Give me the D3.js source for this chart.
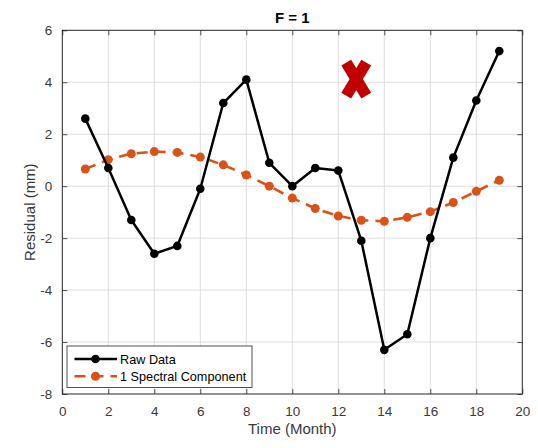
<!DOCTYPE html>
<html>
<head>
<meta charset="utf-8">
<script src="https://cdn.jsdelivr.net/npm/d3@7"></script>
<style>
  html, body { margin: 0; padding: 0; background: #fff; }
  svg { display: block; font-family: "Liberation Sans", Arial, sans-serif; }
</style>
</head>
<body>
<script>
// Monthly residuals and their single-component spectral fit
const months = [1, 2, 3, 4, 5, 6, 7, 8, 9, 10, 11, 12, 13, 14, 15, 16, 17, 18, 19];
const rawData = [2.6, 0.7, -1.3, -2.6, -2.3, -0.1, 3.2, 4.1, 0.9, 0.0, 0.7, 0.6, -2.1, -6.3, -5.7, -2.0, 1.1, 3.3, 5.2];
const spectral = [0.66, 1.02, 1.25, 1.33, 1.3, 1.12, 0.82, 0.43, 0.0, -0.46, -0.86, -1.15, -1.31, -1.35, -1.2, -0.98, -0.63, -0.2, 0.23];
const xTicks = [0, 2, 4, 6, 8, 10, 12, 14, 16, 18, 20];
const yTicks = [-8, -6, -4, -2, 0, 2, 4, 6];
const seriesNames = ["Raw Data", "1 Spectral Component"];
const titleText = "F = 1";
const xLabel = "Time (Month)";
const yLabel = "Residual (mm)";
const rejectMark = { x: 12.78, y: 4.12 };

const W = 538, H = 448;
const m = { left: 62.3, right: 538 - 522.3, top: 30.3, bottom: 448 - 394 };
const iw = W - m.left - m.right, ih = H - m.top - m.bottom;

const axisColor = "#262626";
const textColor = "#3a3a3a";
const orange = "#D95319";
const plainNumber = d => String(d);   // hyphen-minus for negative ticks

const svg = d3.select("body").append("svg").attr("width", W).attr("height", H);
const g = svg.append("g").attr("transform", `translate(${m.left},${m.top})`);

const x = d3.scaleLinear().domain([0, 20]).range([0, iw]);
const y = d3.scaleLinear().domain([-8, 6]).range([ih, 0]);

// grid
g.append("g").selectAll("line").data(xTicks.slice(1, -1)).join("line")
  .attr("x1", d => x(d)).attr("x2", d => x(d)).attr("y1", 0).attr("y2", ih)
  .attr("stroke", "#dedede").attr("stroke-width", 1);
g.append("g").selectAll("line").data(yTicks.slice(1, -1)).join("line")
  .attr("y1", d => y(d)).attr("y2", d => y(d)).attr("x1", 0).attr("x2", iw)
  .attr("stroke", "#dedede").attr("stroke-width", 1);

// axes with inward ticks on all four sides
function styleAxis(sel, showText) {
  sel.select(".domain").remove();
  sel.selectAll(".tick line").attr("stroke", axisColor).attr("stroke-width", 0.8);
  sel.selectAll(".tick text").attr("fill", textColor).style("font-size", "13.5px");
  if (!showText) sel.selectAll(".tick text").remove();
}
g.append("g").attr("transform", `translate(0,${ih})`)
  .call(d3.axisBottom(x).tickValues(xTicks).tickFormat(plainNumber).tickSizeInner(-5).tickSizeOuter(0).tickPadding(12))
  .call(s => styleAxis(s, true));
g.append("g")
  .call(d3.axisTop(x).tickValues(xTicks).tickSizeInner(-5).tickSizeOuter(0))
  .call(s => styleAxis(s, false));
g.append("g")
  .call(d3.axisLeft(y).tickValues(yTicks).tickFormat(plainNumber).tickSizeInner(-5).tickSizeOuter(0).tickPadding(10))
  .call(s => styleAxis(s, true));
g.append("g").attr("transform", `translate(${iw},0)`)
  .call(d3.axisRight(y).tickValues(yTicks).tickSizeInner(-5).tickSizeOuter(0))
  .call(s => styleAxis(s, false));

g.append("rect").attr("width", iw).attr("height", ih)
  .attr("fill", "none").attr("stroke", axisColor).attr("stroke-width", 1);

const line = d3.line().x(d => x(d[0])).y(d => y(d[1]));
const spectralPts = months.map((mo, i) => [mo, spectral[i]]);
const rawPts = months.map((mo, i) => [mo, rawData[i]]);

// spectral component (dashed, orange)
g.append("path").datum(spectralPts).attr("d", line)
  .attr("fill", "none").attr("stroke", orange).attr("stroke-width", 2.6)
  .attr("stroke-dasharray", "11,7");
g.append("g").selectAll("circle").data(spectralPts).join("circle")
  .attr("cx", d => x(d[0])).attr("cy", d => y(d[1])).attr("r", 4.5).attr("fill", orange);

// raw data (solid, black)
g.append("path").datum(rawPts).attr("d", line)
  .attr("fill", "none").attr("stroke", "#000").attr("stroke-width", 2.5)
  .attr("stroke-linejoin", "round");
g.append("g").selectAll("circle").data(rawPts).join("circle")
  .attr("cx", d => x(d[0])).attr("cy", d => y(d[1])).attr("r", 4.3).attr("fill", "#000");

// red cross marker
const cx = x(rejectMark.x), cy = y(rejectMark.y);
const cross = g.append("g").attr("stroke", "#C00000").attr("stroke-width", 11.5).attr("stroke-linecap", "butt");
cross.append("line").attr("x1", cx - 10).attr("y1", cy - 16.5).attr("x2", cx + 10).attr("y2", cy + 16.5);
cross.append("line").attr("x1", cx + 10).attr("y1", cy - 16.5).attr("x2", cx - 10).attr("y2", cy + 16.5);

// title and axis labels
svg.append("text").attr("x", m.left + iw / 2).attr("y", 23.3).attr("text-anchor", "middle")
  .attr("fill", "#000").style("font-size", "15px").style("font-weight", "bold").text(titleText);
svg.append("text").attr("x", m.left + iw / 2).attr("y", 434).attr("text-anchor", "middle")
  .attr("fill", textColor).style("font-size", "15px").text(xLabel);
svg.append("text").attr("transform", `translate(35,${m.top + ih / 2}) rotate(-90)`)
  .attr("text-anchor", "middle").attr("fill", textColor).style("font-size", "15px").text(yLabel);

// legend
const lg = svg.append("g").attr("transform", "translate(67,346)");
lg.append("rect").attr("width", 185).attr("height", 41.5)
  .attr("fill", "#fff").attr("stroke", axisColor).attr("stroke-width", 0.8);
const rows = [
  { name: seriesNames[0], color: "#000", dash: null, r: 4.3 },
  { name: seriesNames[1], color: orange, dash: "11,7", r: 4.5 }
];
rows.forEach((row, i) => {
  const ry = 13 + i * 17.3;
  lg.append("line").attr("x1", 7.5).attr("x2", 50).attr("y1", ry).attr("y2", ry)
    .attr("stroke", row.color).attr("stroke-width", 2.6)
    .attr("stroke-dasharray", row.dash);
  lg.append("circle").attr("cx", 28.5).attr("cy", ry).attr("r", row.r).attr("fill", row.color);
  lg.append("text").attr("x", 53).attr("y", ry + 4.5).attr("fill", "#000")
    .style("font-size", "12.7px").text(row.name);
});
</script>
</body>
</html>
